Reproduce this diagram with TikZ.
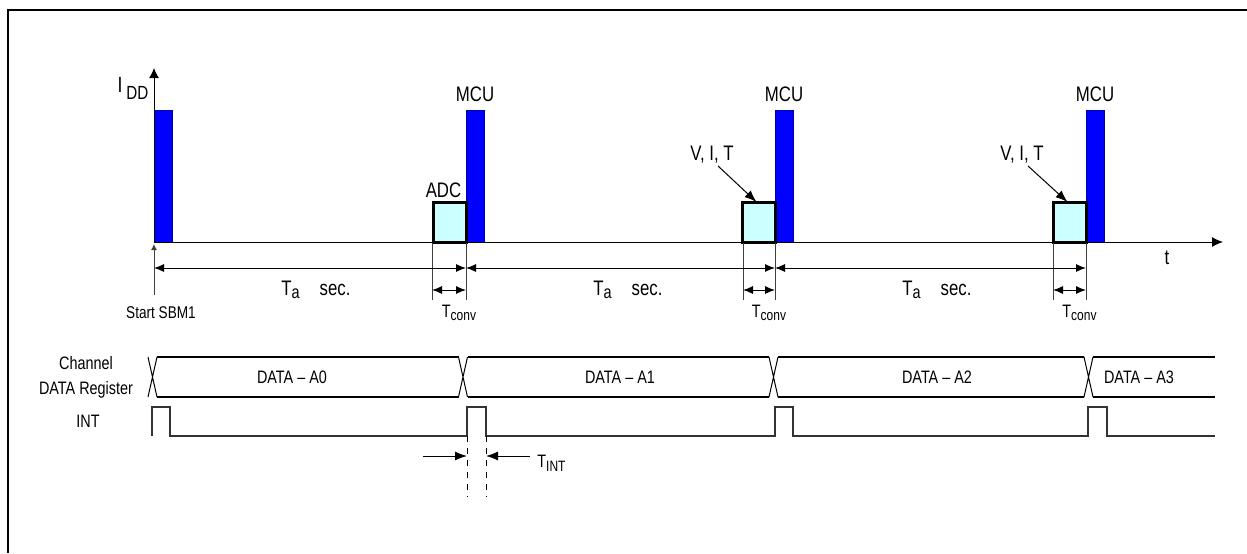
\documentclass[tikz,border=0pt]{standalone}
\usepackage{fontspec}
\setmainfont{Liberation Sans}[FakeStretch=0.8]
\usepackage{tikz}
\usetikzlibrary{positioning}
\usetikzlibrary{arrows.meta}
\definecolor{barblue}{HTML}{0000FF}
\definecolor{adcfill}{HTML}{CCFFFF}
\newcommand{\lowsub}[2][1.8pt]{\raisebox{-#1}{\fontsize{7.5}{8}\selectfont #2}}

\begin{document}
\begin{tikzpicture}[x=0.5pt, y=-0.5pt,
		mcubar/.style={
			draw=blue!65!black,
			fill=barblue,
			line width=0.4pt,
			minimum width=9pt,
			minimum height=66pt,
			inner sep=0pt, outer sep=0pt,
			anchor=south west,
		},
		adcbox/.style={
			draw,
			fill=adcfill,
			line width=1.5pt,
			minimum width=16.5pt,
			minimum height=20pt,
			inner sep=0pt, outer sep=0pt,
			anchor=south east,
		},
		dimline/.style={{Latex[length=5pt,width=4pt]}-{Latex[length=5pt,width=4pt]}, line width=0.5pt},
		extline/.style={line width=0.5pt, black!75},
		ptr/.style={-{Latex[length=6pt,width=4.5pt]}, line width=0.5pt},
		wave/.style={line width=0.6pt, black!80},
		lblbig/.style={font=\fontsize{10.5}{12}\selectfont, inner sep=1pt},
		lblsmall/.style={font=\fontsize{9}{10}\selectfont, inner sep=1pt}]
		\useasboundingbox (0,0) rectangle (1247,553);
		\draw[line width=1.2pt] (8,553) -- (8,10) -- (1247,10);
		
		% current plot
		\node[mcubar] (mcu0) at (154,242) {};
		\foreach \k/\p/\a/\m in {1/154/432/466, 2/466/743/775, 3/775/1053/1086}{
			\node[mcubar] (mcu\k) at (\m,242) {};
			\node[adcbox] (adc\k) at (\m,242) {};
			\node[lblbig, above=3pt of mcu\k] (mculbl\k) {MCU};
			\draw[extline] (\a,242) -- (\a,300);
			\draw[extline] (\m,242) -- (\m,300);
			\draw[dimline] (\p,268) -- (\m,268);
			\draw[dimline] (\a,290) -- (\m,290);
			\node[lblbig] (ta\k) at (\p+162,290) {T\lowsub[1.5pt]{\fontsize{9}{10}\selectfont a}\hspace{10pt}sec.};
			\node[lblsmall] (tconv\k) at ({(\a+\m)/2+10},313) {T\lowsub{conv}};
		}
		\foreach \k/\a in {2/743, 3/1053}{
			\node[lblbig] (vit\k) at (\a-31,155) {V, I, T};
			\draw[ptr] ([xshift=3pt]vit\k.south) -- ([xshift=-1pt]adc\k.north);
		}
		\node[lblbig, above=1pt of adc1, xshift=-3pt] (adclbl) {ADC};
		
		\draw[-{Latex[length=5pt,width=5pt]}, line width=0.5pt] (154,242) -- (154,68);
		\draw[-{Latex[length=5.5pt,width=5pt]}, line width=0.5pt] (154,242) -- (1223,242);
		\node[font=\fontsize{11}{12}\selectfont, inner sep=1pt] (idd) at (133,88) {I\,\raisebox{-3.5pt}{\fontsize{9.5}{10}\selectfont DD}};
		\node[lblbig] (tlbl) at (1167,258) {t};
		\draw[extline, -{Latex[length=3pt,width=3pt]}] (154,295) -- (154,244);
		\node[font=\fontsize{8.5}{10}\selectfont, inner sep=1pt] (start) at (161,313) {Start SBM1};
		
		% data register
		\node[font=\fontsize{9}{12.5}\selectfont, inner sep=1pt, align=center] (chan) at (86,377) {Channel\\DATA Register};
		\foreach \c in {152.5, 463, 773.5, 1088.5}
			\draw[line width=0.5pt] (\c-4.5,357) -- (\c+4.5,397) (\c-4.5,397) -- (\c+4.5,357);
		\foreach \s/\e in {157/458.5, 467.5/769, 778/1084, 1093/1215}
			\draw[line width=0.6pt] (\s,357) -- (\e,357) (\s,397) -- (\e,397);
		\node[lblsmall] (dA0) at (292,377) {DATA -- A0};
		\node[lblsmall] (dA1) at (620,377) {DATA -- A1};
		\node[lblsmall] (dA2) at (937,377) {DATA -- A2};
		\node[lblsmall] (dA3) at (1139,377) {DATA -- A3};
		
		% INT
		\node[lblsmall] (intlbl) at (88,421) {INT};
		\draw[wave] (152,436) -- ++(0,-29) -- ++(18,0) -- ++(0,29) -- (467,436) -- ++(0,-29) -- ++(19,0) -- ++(0,29) -- (775,436) -- ++(0,-29) -- ++(18,0) -- ++(0,29) -- (1088,436) -- ++(0,-29) -- ++(19,0) -- ++(0,29) -- (1215,436);
		\draw[dashed, line width=0.5pt] (467,436) -- (467,497);
		\draw[dashed, line width=0.5pt] (486,436) -- (486,497);
		\draw[ptr] (423,456) -- (467,456);
		\draw[ptr] (530,456) -- (486,456);
		\node[lblsmall, anchor=west] (tint) at (535,463) {T\lowsub{INT}};
	\end{tikzpicture}
\end{document}
